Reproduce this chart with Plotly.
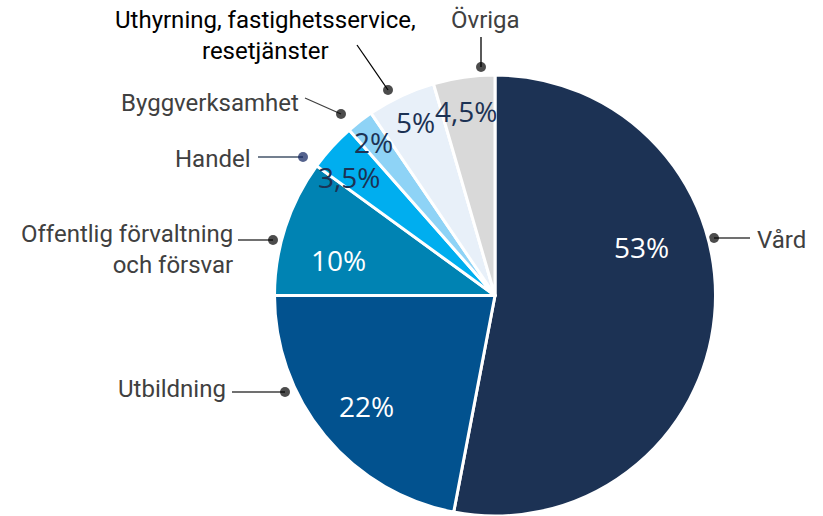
import plotly.graph_objects as go

W, H = 823, 516

# data
categories = ["Vård", "Utbildning", "Offentlig förvaltning<br>och försvar", "Handel",
              "Byggverksamhet", "Uthyrning, fastighetsservice,<br>resetjänster", "Övriga"]
shares = [53, 22, 10, 3.5, 2, 5, 4.5]
pct_labels = [f"{v:g}%".replace(".", ",") for v in shares]

colors = ["#1c3254", "#02528f", "#0083b3", "#00aeef", "#8ed3f6", "#e8f0f9", "#d9d9d9"]
pct_colors = ["white", "white", "white", "#1c3254", "#1c3254", "#1c3254", "#1c3254"]

# layout (pixel coordinates, y down)
pct_pos = [(641, 247), (366, 406), (338, 260), (349, 177), (373, 142), (415, 122), (466, 111)]
label_pos = [(755, 240, "left"), (228, 389, "right"), (235, 249, "right"), (253, 159, "right"),
             (301, 103, "right"), (265, 35, "center"), (485, 20, "center")]
leaders = [((750, 238), (714, 238)), ((232, 392), (285, 392)), ((238, 240), (273, 240)),
           ((258, 157), (303, 157)), ((305, 98), (341, 114)), ((357, 45), (388, 90)),
           ((481, 37), (481, 67))]
label_colors = ["#404040"] * 5 + ["#000000", "#404040"]
leader_colors = ["#404040", "#404040", "#404040", "#44546a", "#404040", "#000000", "#000000"]
dot_colors = ["#000000", "#000000", "#000000", "#0b1f5c", "#000000", "#000000", "#000000"]

LABEL_FONT = "Roboto"
PCT_FONT = "Open Sans"
cx, cy, r = 495, 297, 222

fig = go.Figure()

fig.add_trace(go.Pie(
    labels=categories,
    values=shares,
    sort=False,
    direction="clockwise",
    rotation=0,
    marker=dict(colors=colors, line=dict(color="white", width=3)),
    textinfo="none",
    hoverinfo="label+percent",
    showlegend=False,
    domain=dict(x=[(cx - r) / W, (cx + r) / W], y=[0, (H - (cy - r)) / H]),
))

# leader lines with a dot at the pie end
for (p0, p1), lc, dc in zip(leaders, leader_colors, dot_colors):
    fig.add_trace(go.Scatter(
        x=[p0[0], p1[0]], y=[p0[1], p1[1]],
        mode="lines+markers",
        line=dict(color=lc, width=1.3),
        marker=dict(size=[0, 10], color=dc, line=dict(width=0)),
        hoverinfo="skip",
        showlegend=False,
    ))

for (x, y, align), txt, c in zip(label_pos, categories, label_colors):
    fig.add_annotation(x=x, y=y, text=txt, showarrow=False, xanchor=align, yanchor="middle",
                       align=align, font=dict(family=LABEL_FONT, size=24, color=c))

for (x, y), txt, c in zip(pct_pos, pct_labels, pct_colors):
    fig.add_annotation(x=x, y=y, text=txt, showarrow=False, xanchor="center", yanchor="middle",
                       font=dict(family=PCT_FONT, size=28, color=c))

fig.update_layout(
    width=W, height=H,
    margin=dict(l=0, r=0, t=0, b=0),
    paper_bgcolor="white",
    plot_bgcolor="rgba(0,0,0,0)",
    xaxis=dict(range=[0, W], visible=False, domain=[0, 1], fixedrange=True),
    yaxis=dict(range=[H, 0], visible=False, domain=[0, 1], fixedrange=True),
)

fig.write_html("out.html", config={"displayModeBar": False},
               post_script="document.body.style.margin='0';")
